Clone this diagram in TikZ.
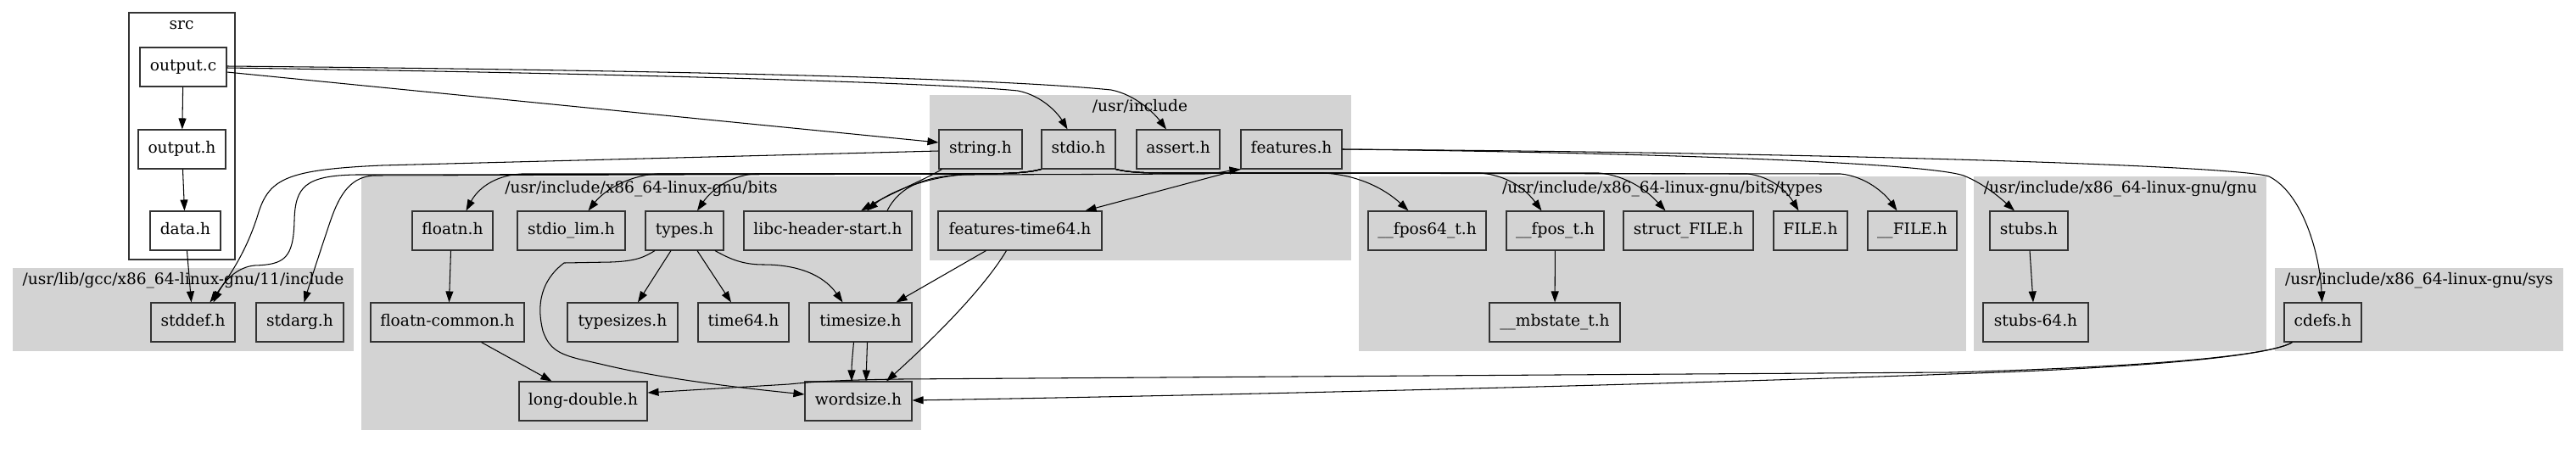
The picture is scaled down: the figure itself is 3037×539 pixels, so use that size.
\documentclass[tikz,border=0pt]{standalone}
\usepackage{fontspec}
\setmainfont{DejaVu Serif}
\usetikzlibrary{arrows.meta}
\definecolor{clgray}{HTML}{D3D3D3}
\definecolor{bord}{HTML}{333333}
\begin{document}
\begin{tikzpicture}[x=1pt,y=-1pt,
  fbox/.style={draw=bord, line width=1.1pt, minimum height=46pt, inner sep=0pt,
    text height=13.5pt, text depth=4pt, font=\fontsize{18.6}{22}\selectfont},
  clab/.style={inner sep=0pt, text height=13.5pt, text depth=4pt, font=\fontsize{18.6}{22}\selectfont},
  clus/.style={fill=clgray},
  edge/.style={line width=1.05pt, -{Triangle[length=13pt,width=9pt]}}]
\useasboundingbox (0,0) rectangle (3037,539);
% clusters
\draw[draw=bord, line width=1.1pt] (152,15) rectangle (277,306);
\node[clab] (lsrc) at (214,30) {src};
\fill[clus] (15,316) rectangle (417,414);
\node[clab] (lgcc) at (216,331) {/usr/lib/gcc/x86\_64-linux-gnu/11/include};
\fill[clus] (426,208) rectangle (1086,507);
\node[clab] (lbits) at (756,223) {/usr/include/x86\_64-linux-gnu/bits};
\fill[clus] (1096,112) rectangle (1593,307);
\node[clab] (linc) at (1344,127) {/usr/include};
\fill[clus] (1602,208) rectangle (2318,414);
\node[clab] (ltypes) at (1960,223) {/usr/include/x86\_64-linux-gnu/bits/types};
\fill[clus] (2327,208) rectangle (2672,414);
\node[clab] (lgnu) at (2500,223) {/usr/include/x86\_64-linux-gnu/gnu};
\fill[clus] (2682,316) rectangle (3022,414);
\node[clab] (lsys) at (2852,331) {/usr/include/x86\_64-linux-gnu/sys};
% nodes
\node[fbox, minimum width=102pt] (outc) at (216,79) {output.c};
\node[fbox, minimum width=103pt] (outh) at (214.5,176) {output.h};
\node[fbox, minimum width=83pt] (datah) at (218.5,272) {data.h};
\node[fbox, minimum width=99pt] (stddef) at (227.5,380) {stddef.h};
\node[fbox, minimum width=103pt] (stdarg) at (353.5,380) {stdarg.h};
\node[fbox, minimum width=95pt] (floatn) at (533.5,272) {floatn.h};
\node[fbox, minimum width=127pt] (stdiolim) at (673.5,272) {stdio\_lim.h};
\node[fbox, minimum width=92pt] (types) at (807,272) {types.h};
\node[fbox, minimum width=198pt] (libc) at (976,272) {libc-header-start.h};
\node[fbox, minimum width=181pt] (floatnc) at (527.5,380) {floatn-common.h};
\node[fbox, minimum width=130pt] (typesizes) at (734,380) {typesizes.h};
\node[fbox, minimum width=107pt] (time64) at (876.5,380) {time64.h};
\node[fbox, minimum width=121pt] (timesize) at (1014.5,380) {timesize.h};
\node[fbox, minimum width=151pt] (longd) at (687.5,473) {long-double.h};
\node[fbox, minimum width=126pt] (wordsize) at (1012,473) {wordsize.h};
\node[fbox, minimum width=98pt] (stringh) at (1156,176) {string.h};
\node[fbox, minimum width=87pt] (stdioh) at (1271.5,176) {stdio.h};
\node[fbox, minimum width=98pt] (asserth) at (1389,176) {assert.h};
\node[fbox, minimum width=119pt] (features) at (1522.5,176) {features.h};
\node[fbox, minimum width=193pt] (ft64) at (1202.5,272) {features-time64.h};
\node[fbox, minimum width=139pt] (fpos64) at (1682.5,272) {\_\_fpos64\_t.h};
\node[fbox, minimum width=115pt] (fpos) at (1833.5,272) {\_\_fpos\_t.h};
\node[fbox, minimum width=154pt] (mbstate) at (1833,380) {\_\_mbstate\_t.h};
\node[fbox, minimum width=153pt] (structfile) at (1990.5,272) {struct\_FILE.h};
\node[fbox, minimum width=87pt] (fileh) at (2134.5,272) {FILE.h};
\node[fbox, minimum width=105pt] (ufile) at (2254.5,272) {\_\_FILE.h};
\node[fbox, minimum width=92pt] (stubs) at (2392,272) {stubs.h};
\node[fbox, minimum width=124pt] (stubs64) at (2400,380) {stubs-64.h};
\node[fbox, minimum width=91pt] (cdefs) at (2738.5,380) {cdefs.h};
% edges: src
\draw[edge] (outc) -- (outh);
\draw[edge] (outh) -- (datah);
\draw[edge] (datah) -- (stddef);
\draw[edge] ([yshift=-6pt]outc.east) -- ([yshift=8pt]stringh.west);
\draw[edge] ([yshift=-1pt]outc.east) .. controls (700,86) and (1100,97) .. (1200,107) .. controls (1230,113) and (1248,135) .. ([xshift=-13pt]stdioh.north);
\draw[edge] ([yshift=1pt]outc.east) .. controls (700,82) and (1150,90) .. (1310,106) .. controls (1340,112) and (1362,135) .. ([xshift=-14pt]asserth.north);
% string.h
\draw[edge] ([yshift=-2pt]stringh.west) -- (450,195) .. controls (340,200) and (318,210) .. (305,250) .. controls (293,290) and (275,320) .. ([xshift=20pt]stddef.north);
\draw[edge] ([xshift=4pt]stringh.south west) .. controls (1090,212) and (1050,228) .. ([xshift=39pt]libc.north);
% stdio.h leftwards
\draw[edge] (stdioh.south west) .. controls (1215,203) and (1195,205) .. (1150,205) -- (420,206) .. controls (360,207) and (348,220) .. (347,260) .. controls (346,305) and (335,312) .. (300,313) .. controls (280,315) and (265,330) .. ([xshift=24pt]stddef.north);
\draw[edge] (stdioh.south west) .. controls (1215,203) and (1195,205) .. (1150,205) -- (440,207) .. controls (410,209) and (398,235) .. (388,265) .. controls (378,295) and (368,325) .. ([xshift=5pt]stdarg.north);
\draw[edge] (stdioh.south west) .. controls (1215,203) and (1195,205) .. (1150,205) -- (615,205) .. controls (580,207) and (562,225) .. ([xshift=16pt]floatn.north);
\draw[edge] (stdioh.south west) .. controls (1215,203) and (1195,205) .. (1150,205) -- (775,205) .. controls (740,207) and (712,225) .. ([xshift=20pt]stdiolim.north);
\draw[edge] (stdioh.south west) .. controls (1215,203) and (1195,205) .. (1150,205) -- (890,205) .. controls (860,207) and (838,225) .. ([xshift=15pt]types.north);
\draw[edge] (stdioh.south west) .. controls (1215,203) and (1195,205) .. (1150,205) .. controls (1100,206) and (1050,225) .. ([xshift=46pt]libc.north);
% stdio.h rightwards
\draw[edge] (stdioh.south east) .. controls (1330,203) and (1345,204) .. (1380,204) -- (1560,204) .. controls (1600,206) and (1632,222) .. ([xshift=-22pt]fpos64.north);
\draw[edge] (stdioh.south east) .. controls (1330,203) and (1345,204) .. (1380,204) -- (1745,204) .. controls (1780,207) and (1800,225) .. ([xshift=-16pt]fpos.north);
\draw[edge] (stdioh.south east) .. controls (1330,203) and (1345,204) .. (1380,204) -- (1885,204) .. controls (1918,207) and (1942,225) .. ([xshift=-27pt]structfile.north);
\draw[edge] (stdioh.south east) .. controls (1330,203) and (1345,204) .. (1380,204) -- (2060,205) .. controls (2090,208) and (2108,228) .. ([xshift=-14pt]fileh.north);
\draw[edge] (stdioh.south east) .. controls (1330,203) and (1345,204) .. (1380,204) -- (2170,205) .. controls (2200,208) and (2222,228) .. ([xshift=-18pt]ufile.north);
% libc-header-start.h / features.h
\draw[edge] ([xshift=70pt]libc.north) .. controls (1060,220) and (1090,207) .. (1140,206) -- (1420,205) .. controls (1440,204) and (1450,201) .. (features.south west);
\draw[edge] (features.south west) -- ([xshift=77pt]ft64.north);
\draw[edge] (features.east) .. controls (1950,180) and (2270,192) .. (2315,207) .. controls (2340,217) and (2360,235) .. ([xshift=-17pt]stubs.north);
\draw[edge] (features.east) .. controls (2150,180) and (2635,195) .. (2675,208) .. controls (2715,228) and (2735,300) .. ([xshift=-1pt]cdefs.north);
% cdefs.h
\draw[edge] ([xshift=10pt]cdefs.south west) .. controls (2680,418) and (2550,432) .. (2300,439) -- (1060,447) .. controls (990,448) and (960,450) .. (930,453) -- ([yshift=10pt]longd.east);
\draw[edge] ([xshift=10pt]cdefs.south west) .. controls (2680,418) and (2550,433) .. (2300,441) .. controls (2000,452) and (1500,465) .. ([yshift=1pt]wordsize.east);
% bits
\draw[edge] ([xshift=-2pt]floatn.south) -- ([xshift=2pt]floatnc.north);
\draw[edge] ([xshift=40pt]floatnc.south) -- ([xshift=-37pt]longd.north);
\draw[edge] ([xshift=-16pt]types.south) -- ([xshift=18pt]typesizes.north);
\draw[edge] ([xshift=15pt]types.south) -- ([xshift=-14.5pt]time64.north);
\draw[edge] ([xshift=36pt]types.south) .. controls (860,305) and (875,312) .. (900,312) .. controls (950,312) and (975,330) .. ([xshift=-21pt]timesize.north);
\draw[edge] ([xshift=-35pt]types.south) .. controls (760,303) and (750,308) .. (720,309) -- (665,310) .. controls (645,325) and (630,350) .. (640,390) .. controls (650,420) and (670,420) .. (720,432) .. controls (800,450) and (900,460) .. ([yshift=8pt]wordsize.west);
\draw[edge] ([xshift=-8pt]timesize.south) .. controls (1005,420) and (1004,430) .. ([xshift=-8pt]wordsize.north);
\draw[edge] ([xshift=8pt]timesize.south) -- ([xshift=9pt]wordsize.north);
\draw[edge] ([xshift=-40pt]ft64.south) -- ([xshift=42pt]timesize.north);
\draw[edge] ([xshift=-16pt]ft64.south) .. controls (1160,340) and (1100,400) .. ([xshift=33pt]wordsize.north);
% types / gnu
\draw[edge] (fpos) -- (mbstate);
\draw[edge] ([xshift=1pt]stubs.south) -- ([xshift=-3pt]stubs64.north);
\end{tikzpicture}
\end{document}
